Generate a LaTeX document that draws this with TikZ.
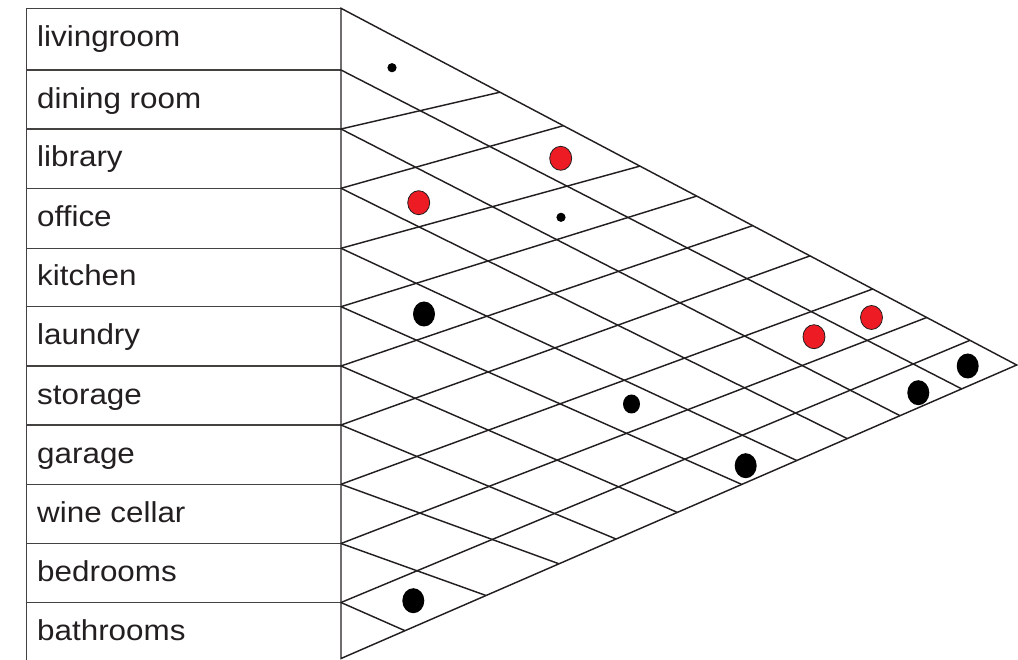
\documentclass[tikz,border=0pt]{standalone}
\usepackage{fontspec}
\setmainfont{Liberation Sans}[FakeStretch=1.09]
\definecolor{ink}{HTML}{231F20}
\definecolor{dotred}{HTML}{ED1C24}
\begin{document}
\begin{tikzpicture}[x=1pt,y=-1pt,
  gridline/.style={draw=ink,line width=1.45pt},
  tableline/.style={draw=ink!85,line width=1.5pt},
  roomlabel/.style={anchor=base west,inner sep=0pt,text=ink,font=\fontsize{28.8}{34}\selectfont},
  reddot/.style={fill=dotred,draw=ink,line width=0.8pt},
  blackdot/.style={fill=black}]
\useasboundingbox (0,0) rectangle (1018,660);
% left edge points
\coordinate (P0) at (341,8.3);
\coordinate (P1) at (341,70);
\coordinate (P2) at (341,129);
\coordinate (P3) at (341,188.3);
\coordinate (P4) at (341,248.3);
\coordinate (P5) at (341,306.7);
\coordinate (P6) at (341,366);
\coordinate (P7) at (341,425);
\coordinate (P8) at (341,484.3);
\coordinate (P9) at (341,543.5);
\coordinate (P10) at (341,602.5);
\coordinate (P11) at (341,658.5);
\coordinate (C) at (1016.7,365);
% top edge end points
\coordinate (R2) at (500,92.2);
\coordinate (R3) at (563.3,125.7);
\coordinate (R4) at (640,166.1);
\coordinate (R5) at (696.7,196.1);
\coordinate (R6) at (752.7,225.6);
\coordinate (R7) at (810,255.9);
\coordinate (R8) at (872.7,289.0);
\coordinate (R9) at (926.7,317.5);
\coordinate (R10) at (970,340.3);
% bottom edge end points
\coordinate (Q1) at (961.7,388.9);
\coordinate (Q2) at (900,415.7);
\coordinate (Q3) at (847.3,438.6);
\coordinate (Q4) at (796.7,460.5);
\coordinate (Q5) at (741.7,484.4);
\coordinate (Q6) at (677.3,512.4);
\coordinate (Q7) at (616,539.0);
\coordinate (Q8) at (559,563.8);
\coordinate (Q9) at (486,595.5);
\coordinate (Q10) at (405,630.7);
% table
\coordinate (TL) at (26.7,8.3);
\coordinate (BL) at (26.7,662);
\draw[tableline] (BL) -- (TL) -- (P0);
\foreach \i/\y in {1/70,2/129,3/188.3,4/248.3,5/306.7,6/366,7/425,8/484.3,9/543.5,10/602.5}
  \draw[tableline] (26.7,\y) -- (P\i);
% triangle
\draw[gridline] (P11) -- (P0) -- (C) -- cycle;
\foreach \i in {1,...,10} \draw[gridline] (P\i) -- (Q\i);
\foreach \j in {2,...,10} \draw[gridline] (P\j) -- (R\j);
% labels
\node[roomlabel] (l0) at (37,46.7) {livingroom};
\node[roomlabel] (l1) at (37,108.5) {dining room};
\node[roomlabel] (l2) at (37,167) {library};
\node[roomlabel] (l3) at (37,226.3) {office};
\node[roomlabel] (l4) at (37,286) {kitchen};
\node[roomlabel] (l5) at (37,345) {laundry};
\node[roomlabel] (l6) at (37,404) {storage};
\node[roomlabel] (l7) at (37,463) {garage};
\node[roomlabel] (l8) at (37,522.3) {wine cellar};
\node[roomlabel] (l9) at (37,581.5) {bedrooms};
\node[roomlabel] (l10) at (37,640.5) {bathrooms};
% dots
\fill[blackdot] (392,67.7) circle[radius=4.6];
\fill[blackdot] (561,217.3) circle[radius=4.6];
\filldraw[reddot] (560.7,158.3) ellipse[x radius=11,y radius=12];
\filldraw[reddot] (418.7,202.7) ellipse[x radius=11,y radius=12];
\filldraw[reddot] (814,336.7) ellipse[x radius=11,y radius=12];
\filldraw[reddot] (871.5,317.5) ellipse[x radius=11,y radius=12];
\fill[blackdot] (424,314) ellipse[x radius=11,y radius=12.5];
\fill[blackdot] (413.3,600.7) ellipse[x radius=11,y radius=12.5];
\fill[blackdot] (745.7,465.7) ellipse[x radius=11,y radius=12.5];
\fill[blackdot] (918.3,392.7) ellipse[x radius=11,y radius=12.5];
\fill[blackdot] (967.7,366) ellipse[x radius=11,y radius=12.5];
\fill[blackdot] (631.5,404) ellipse[x radius=8.5,y radius=9.5];
\end{tikzpicture}
\end{document}
